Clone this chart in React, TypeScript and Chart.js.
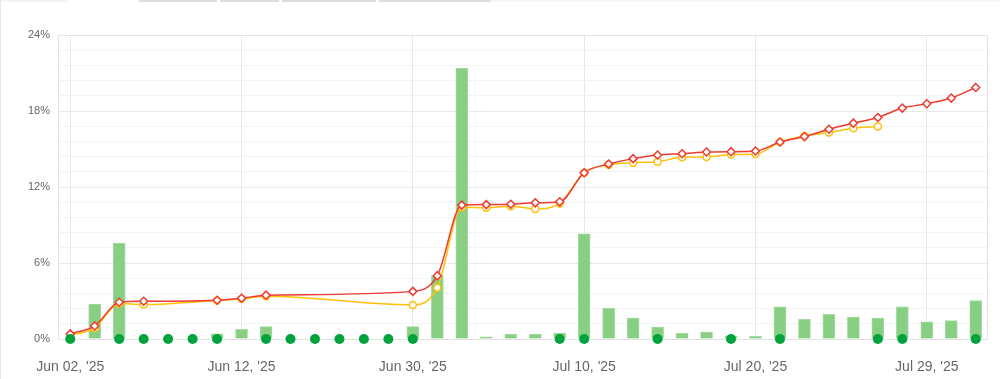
import React, { useEffect, useRef } from "react";
import { Chart, registerables } from "chart.js";

Chart.register(...registerables);

const categories: string[] = [
  "Jun 02, '25", "Jun 03, '25", "Jun 04, '25", "Jun 05, '25", "Jun 06, '25", "Jun 09, '25", "Jun 10, '25",
  "Jun 12, '25", "Jun 13, '25", "Jun 16, '25", "Jun 18, '25", "Jun 20, '25", "Jun 23, '25", "Jun 26, '25",
  "Jun 30, '25", "Jul 01, '25", "Jul 02, '25", "Jul 03, '25", "Jul 07, '25", "Jul 08, '25", "Jul 09, '25",
  "Jul 10, '25", "Jul 11, '25", "Jul 14, '25", "Jul 15, '25", "Jul 16, '25", "Jul 17, '25", "Jul 18, '25",
  "Jul 20, '25", "Jul 21, '25", "Jul 22, '25", "Jul 23, '25", "Jul 24, '25", "Jul 25, '25", "Jul 28, '25",
  "Jul 29, '25", "Jul 30, '25", "Jul 31, '25",
];

const barValues: (number | null)[] = [
  0, 2.75, 7.58, 0, 0, 0, 0.4, 0.77, 0.98, 0, 0, 0, 0, 0,
  0.98, 5.0, 21.37, 0.18, 0.37, 0.37, 0.47, 8.3, 2.43, 1.66, 0.95, 0.45, 0.55, 0.26,
  0.22, 2.54, 1.56, 1.95, 1.74, 1.66, 2.54, 1.35, 1.45, 3.04,
];

const redValues: (number | null)[] = [
  0.4, 1.03, 2.9, 2.98, null, null, 3.06, 3.22, 3.46, null, null, null, null, null,
  3.76, 5.0, 10.57, 10.61, 10.64, 10.75, 10.83, 13.13, 13.81, 14.24, 14.53, 14.63, 14.76, 14.79,
  14.84, 15.55, 15.98, 16.56, 17.04, 17.49, 18.23, 18.57, 19.02, 19.86,
];

const yellowValues: (number | null)[] = [
  0.3, 0.87, 2.8, 2.72, null, null, 3.04, 3.17, 3.38, null, null, null, null, null,
  2.69, 4.05, 10.41, 10.37, 10.48, 10.27, 10.7, 13.13, 13.76, 13.92, 14.0, 14.34, 14.37, 14.56,
  14.6, 15.55, 16.03, 16.3, 16.64, 16.77, null, null, null, null,
];

const signalIndices: number[] = [0, 2, 3, 4, 5, 6, 8, 9, 10, 11, 12, 13, 14, 20, 21, 24, 27, 29, 33, 34, 37];

const yMin = 0;
const yMax = 24;
const yStep = 1.2;
const yLabelEvery = 6;
const xLabelEvery = 7;

const isMajor = (v: number) => Math.abs(v / yLabelEvery - Math.round(v / yLabelEvery)) < 1e-6;

const framePlugin = {
  id: "frame",
  beforeDatasetsDraw(chart: any) {
    const { ctx, chartArea } = chart;
    ctx.save();
    ctx.strokeStyle = "#e4e4e4";
    ctx.lineWidth = 1;
    ctx.strokeRect(chartArea.left + 0.5, chartArea.top + 0.5, chartArea.right - chartArea.left - 1, chartArea.bottom - chartArea.top);
    ctx.restore();
  },
};

export default function App() {
  const ref = useRef<HTMLCanvasElement | null>(null);

  useEffect(() => {
    if (!ref.current) return;
    const font = { family: "Arial, 'Liberation Sans', sans-serif" };
    const chart = new Chart(ref.current, {
      type: "bar",
      data: {
        labels: categories,
        datasets: [
          {
            type: "line",
            label: "Signals",
            data: categories.map((_, i) => (signalIndices.includes(i) ? 0 : null)),
            showLine: false,
            pointRadius: 5,
            pointHoverRadius: 5,
            pointBackgroundColor: "#00a33c",
            pointBorderColor: "#00a33c",
            pointBorderWidth: 0,
            clip: false as any,
            order: 0,
          },
          {
            type: "line",
            label: "Red",
            data: redValues,
            borderColor: "#ee3a30",
            borderWidth: 1.5,
            spanGaps: true,
            cubicInterpolationMode: "monotone",
            pointStyle: "rectRot",
            pointRadius: 4,
            pointBackgroundColor: "#ffffff",
            pointBorderColor: "#ee3a30",
            pointBorderWidth: 1.5,
            order: 1,
          },
          {
            type: "line",
            label: "Yellow",
            data: yellowValues,
            borderColor: "#ffbf0a",
            borderWidth: 1.5,
            spanGaps: true,
            cubicInterpolationMode: "monotone",
            pointStyle: "circle",
            pointRadius: 3.5,
            pointBackgroundColor: "#ffffff",
            pointBorderColor: "#ffbf0a",
            pointBorderWidth: 1.5,
            order: 2,
          },
          {
            type: "bar",
            label: "Bars",
            data: barValues,
            backgroundColor: "#88cf84",
            borderColor: "#a3dba0",
            borderWidth: 1,
            barThickness: 12,
            order: 3,
          },
        ],
      },
      options: {
        animation: false,
        responsive: false,
        maintainAspectRatio: false,
        layout: { padding: { top: 35, right: 12, left: 0, bottom: 0 } },
        plugins: { legend: { display: false }, tooltip: { enabled: false } },
        scales: {
          x: {
            offset: true,
            border: { display: false },
            grid: {
              offset: false,
              drawTicks: false,
              color: (c: any) => (c.index % xLabelEvery === 0 ? "#e8e8e8" : "rgba(0,0,0,0)"),
            },
            ticks: {
              autoSkip: false,
              maxRotation: 0,
              minRotation: 0,
              padding: 20,
              color: "#666666",
              font: { ...font, size: 14 },
              callback: (_v: any, i: number) => (i % xLabelEvery === 0 ? categories[i] : ""),
            },
            afterFit: (s: any) => {
              s.height = 40;
            },
          },
          y: {
            min: yMin,
            max: yMax,
            border: { display: false },
            grid: {
              drawTicks: false,
              color: (c: any) => (c.tick && isMajor(c.tick.value) ? "#e8e8e8" : "#f4f4f4"),
            },
            ticks: {
              stepSize: yStep,
              autoSkip: false,
              padding: 8,
              color: "#666666",
              font: { ...font, size: 11 },
              callback: (v: any) => (isMajor(Number(v)) ? Math.round(Number(v)) + "%" : ""),
            },
            afterFit: (s: any) => {
              s.width = 58;
            },
          },
        },
      },
      plugins: [framePlugin],
    });
    return () => chart.destroy();
  }, []);

  const topBars = [
    { l: 0, w: 67, c: "#f4f4f4" },
    { l: 139, w: 78, c: "#dddddd" },
    { l: 220, w: 59, c: "#dddddd" },
    { l: 282, w: 94, c: "#dddddd" },
    { l: 379, w: 111, c: "#dddddd" },
    { l: 490, w: 510, c: "#f5f5f5" },
  ];

  return (
    <div style={{ position: "fixed", left: 0, top: 0, width: 1000, height: 379, background: "#ffffff" }}>
      {topBars.map((b, i) => (
        <div key={i} style={{ position: "absolute", left: b.l, top: 0, width: b.w, height: 2, background: b.c }} />
      ))}
      <div style={{ position: "absolute", left: 0, top: 0, width: 1, height: 379, background: "#e6e6e6" }} />
      <canvas ref={ref} width={1000} height={379} style={{ position: "absolute", left: 0, top: 0 }} />
    </div>
  );
}
